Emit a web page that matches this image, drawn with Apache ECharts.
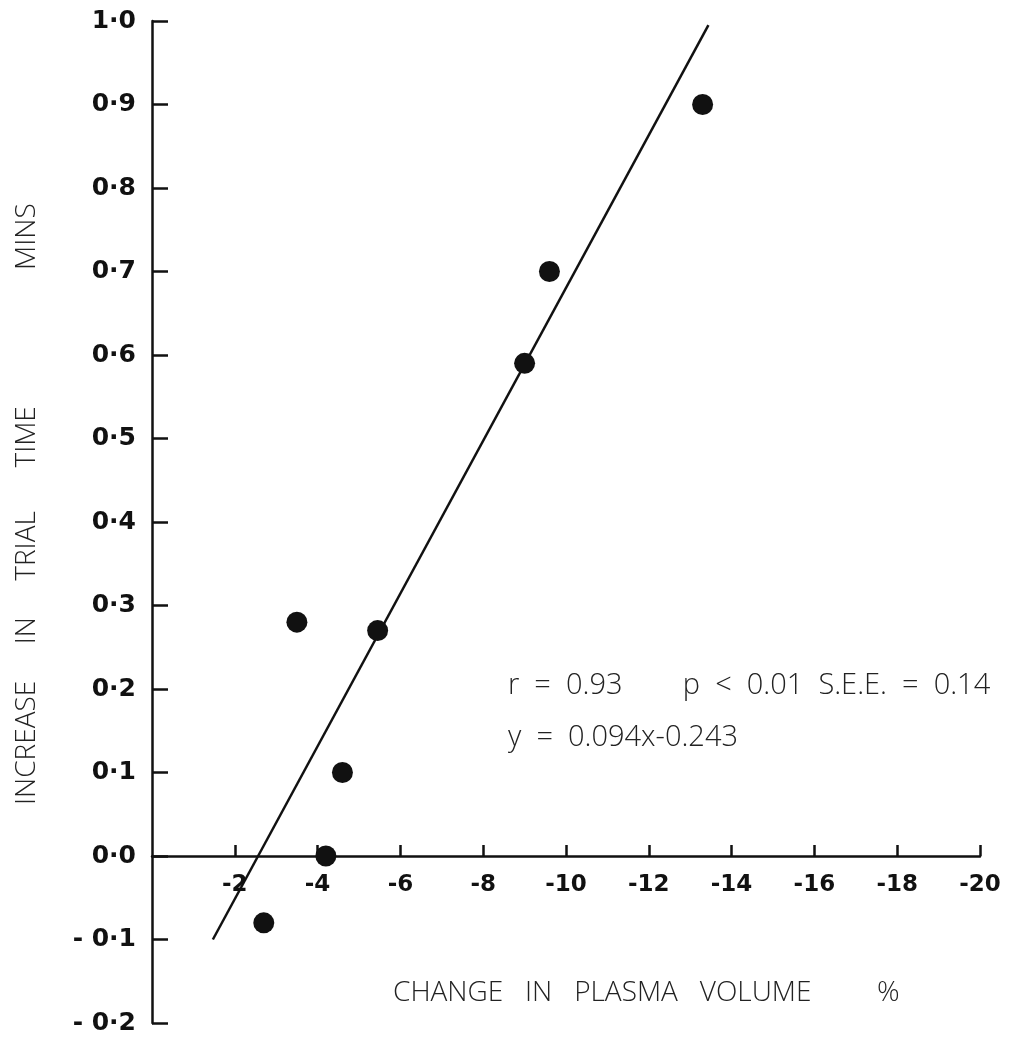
<!DOCTYPE html>
<html>
<head>
<meta charset="utf-8">
<script src="https://cdn.jsdelivr.net/npm/echarts@6/dist/echarts.min.js"></script>
<style>
  html, body { margin: 0; padding: 0; background: #fff; }
  #chart { width: 1017px; height: 1040px; }
</style>
</head>
<body>
<div id="chart"></div>
<script>
// change in plasma volume (%) and increase in trial time (mins)
var plasmaChange = [-2.7, -3.5, -4.2, -4.6, -5.45, -9.0, -9.6, -13.3];
var trialIncrease = [-0.08, 0.28, 0.0, 0.10, 0.27, 0.59, 0.70, 0.90];

// regression line end points
var fitX = [-1.47, -13.44];
var fitY = [-0.10, 0.995];

var xTicks = [-2, -4, -6, -8, -10, -12, -14, -16, -18, -20];
var yTicks = [-0.2, -0.1, 0.0, 0.1, 0.2, 0.3, 0.4, 0.5, 0.6, 0.7, 0.8, 0.9, 1.0];

var statsText = 'r  =  0.93        p  <  0.01  S.E.E.  =  0.14';
var eqText = 'y  =  0.094x-0.243';
var xTitle = 'CHANGE   IN   PLASMA   VOLUME         %';
var yTitle = 'INCREASE     IN     TRIAL      TIME';
var yUnit = 'MINS';

var chart = echarts.init(document.getElementById('chart'));

var points = plasmaChange.map(function (x, i) { return [x, trialIncrease[i]]; });
var fitLine = fitX.map(function (x, i) { return [x, fitY[i]]; });

var titleFont = '300 28px "Open Sans"';
var noteFont = '300 29px "Open Sans"';

chart.setOption({
    backgroundColor: '#fff',
    animation: false,
    grid: {
        left: 152,
        right: 37,
        top: 21,
        bottom: 17,
        outerBoundsMode: 'none'
    },
    xAxis: {
        type: 'value',
        inverse: true,
        min: -20,
        max: 0,
        interval: 2,
        splitLine: { show: false },
        axisLine: {
            onZero: true,
            lineStyle: { color: '#111', width: 2.5 }
        },
        axisTick: {
            inside: true,
            length: 11,
            customValues: xTicks,
            lineStyle: { color: '#111', width: 2.5 }
        },
        axisLabel: {
            customValues: xTicks,
            // labels sit at the grid edge, pull them up under the zero line
            margin: -149,
            color: '#111',
            fontFamily: 'DejaVu Sans',
            fontWeight: 'bold',
            fontSize: 23,
            formatter: function (v) { return '-' + Math.abs(v); }
        }
    },
    yAxis: {
        type: 'value',
        min: -0.2,
        max: 1.0,
        interval: 0.1,
        splitLine: { show: false },
        axisLine: {
            onZero: false,
            lineStyle: { color: '#111', width: 2.5 }
        },
        axisTick: {
            inside: true,
            length: 16,
            customValues: yTicks,
            lineStyle: { color: '#111', width: 2.5 }
        },
        axisLabel: {
            margin: 16,
            color: '#111',
            fontFamily: 'DejaVu Sans',
            fontWeight: 'bold',
            fontSize: 25,
            formatter: function (v) {
                var s = Math.abs(v).toFixed(1).replace('.', '·');
                return v < -0.001 ? '- ' + s : s;
            }
        }
    },
    graphic: [
        {
            type: 'text',
            x: 393,
            y: 993,
            style: {
                text: xTitle,
                fill: '#222',
                font: titleFont,
                verticalAlign: 'middle'
            }
        },
        {
            type: 'text',
            x: 27,
            y: 805,
            rotation: Math.PI / 2,
            style: {
                text: yTitle,
                fill: '#222',
                font: titleFont,
                align: 'left',
                verticalAlign: 'middle'
            }
        },
        {
            type: 'text',
            x: 27,
            y: 270,
            rotation: Math.PI / 2,
            style: {
                text: yUnit,
                fill: '#222',
                font: titleFont,
                align: 'left',
                verticalAlign: 'middle'
            }
        },
        {
            type: 'text',
            x: 508,
            y: 686,
            style: {
                text: statsText,
                fill: '#222',
                font: noteFont,
                verticalAlign: 'middle'
            }
        },
        {
            type: 'text',
            x: 508,
            y: 738,
            style: {
                text: eqText,
                fill: '#222',
                font: noteFont,
                verticalAlign: 'middle'
            }
        }
    ],
    series: [
        {
            name: 'fit',
            type: 'line',
            data: fitLine,
            symbol: 'none',
            lineStyle: { color: '#111', width: 2.5 },
            z: 2
        },
        {
            name: 'data',
            type: 'scatter',
            data: points,
            symbol: 'circle',
            symbolSize: 21,
            itemStyle: { color: '#111', opacity: 1 },
            z: 3
        }
    ]
});
</script>
</body>
</html>
